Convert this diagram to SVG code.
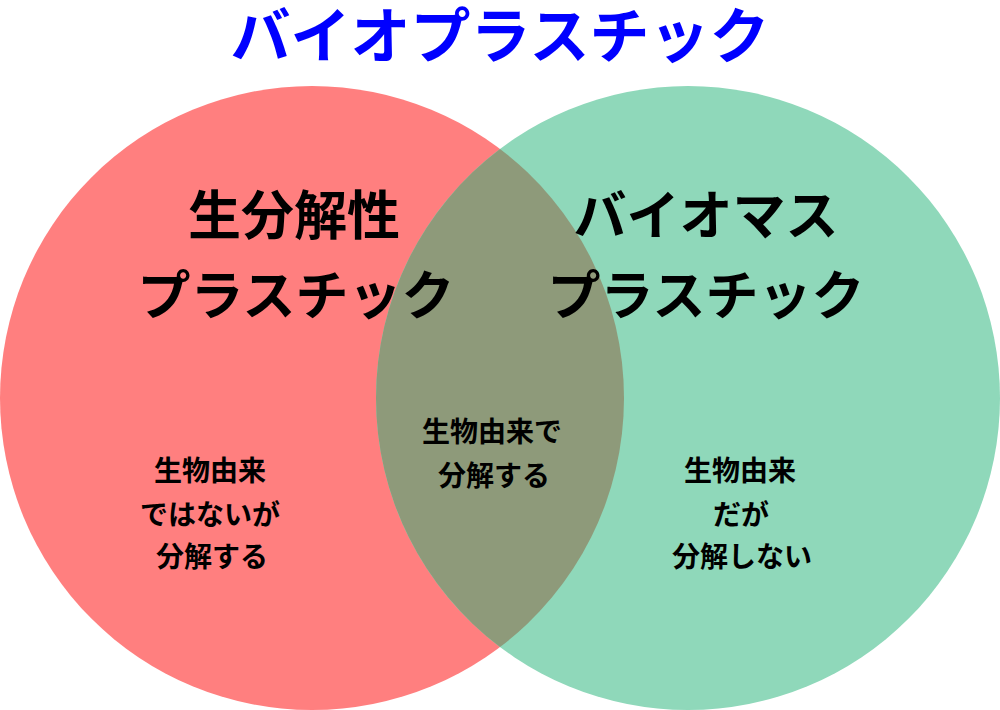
<svg xmlns="http://www.w3.org/2000/svg" width="1000" height="710" viewBox="0 0 1000 710">
<style>
text { font-family: "Noto Sans CJK JP", "Noto Sans", sans-serif; font-weight: bold; text-anchor: middle; fill: #000; }
.title { font-size: 60px; fill: #0000FF; }
.head { font-size: 53px; }
.body { font-size: 28px; }
</style>
<rect width="1000" height="710" fill="#FFFFFF"/>
<g id="title"><text class="title" x="500" y="58">バイオプラスチック</text></g>
<g id="biodegradable">
<circle cx="312" cy="398" r="312" fill="#FF7F7F"/>
</g>
<g id="biomass">
<circle cx="688" cy="398" r="312" fill="#8FD8BA"/>
</g>
<g id="overlap">
<path d="M500,149 A312,312 0 0,1 500,647 A312,312 0 0,1 500,149 Z" fill="#8E9A7A"/>
</g>
<g id="labels-left">
<text class="head" x="294" y="235">生分解性</text>
<text class="head" x="296" y="315">プラスチック</text>
<text class="body" x="210" y="481">生物由来</text>
<text class="body" x="210" y="525">ではないが</text>
<text class="body" x="212" y="567">分解する</text>
</g>
<g id="labels-right">
<text class="head" x="706" y="235">バイオマス</text>
<text class="head" x="706" y="315">プラスチック</text>
<text class="body" x="740" y="481">生物由来</text>
<text class="body" x="741" y="525">だが</text>
<text class="body" x="742" y="567">分解しない</text>
</g>
<g id="labels-center">
<text class="body" x="492" y="442">生物由来で</text>
<text class="body" x="494" y="486">分解する</text>
</g>
<g id="connectors"></g>
</svg>
